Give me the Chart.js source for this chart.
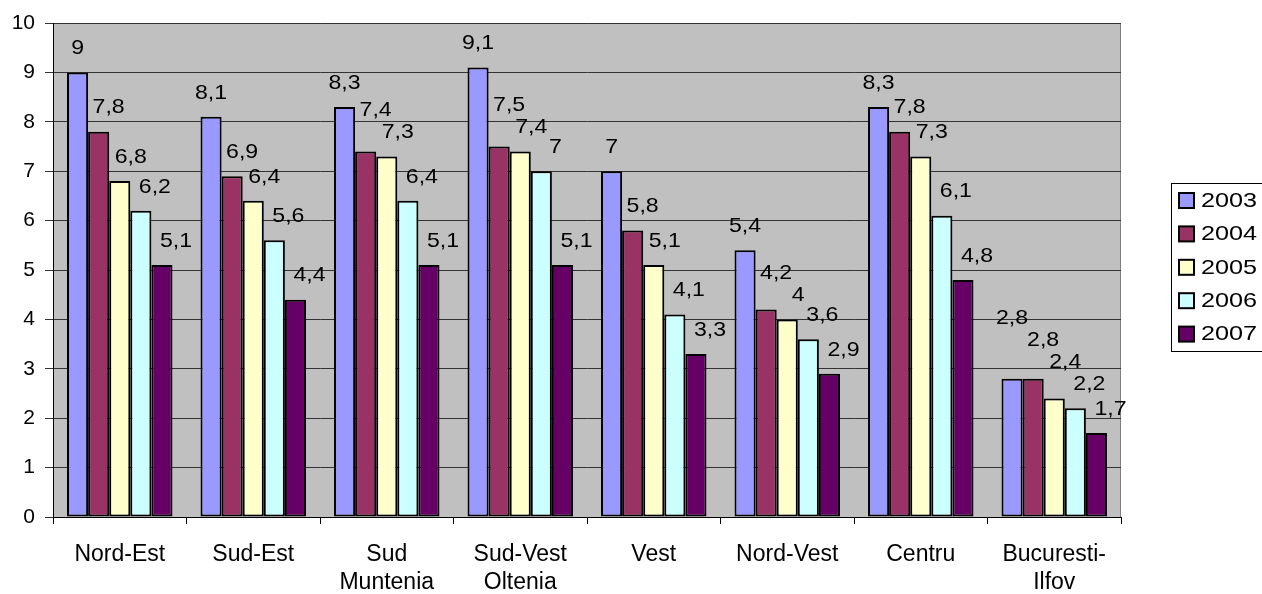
<!DOCTYPE html>
<html lang="en">
<head>
<meta charset="UTF-8" />
<title>Regiuni 2003-2007</title>
<script src="https://cdn.jsdelivr.net/npm/chart.js"></script>
<style>
  * { margin: 0; padding: 0; box-sizing: border-box; }
  body { background: #ffffff; width: 1262px; height: 594px; overflow: hidden; }
  #wrap { position: relative; width: 1262px; height: 594px; }
</style>
</head>
<body>
<div id="wrap"><canvas id="chart" width="1262" height="594"></canvas></div>
<script>
// data
const regions = ['Nord-Est', 'Sud-Est', ['Sud', 'Muntenia'], ['Sud-Vest', 'Oltenia'], 'Vest', 'Nord-Vest', 'Centru', ['Bucuresti-', 'Ilfov']];
const years = ['2003', '2004', '2005', '2006', '2007'];
const v2003 = [9, 8.1, 8.3, 9.1, 7, 5.4, 8.3, 2.8];
const v2004 = [7.8, 6.9, 7.4, 7.5, 5.8, 4.2, 7.8, 2.8];
const v2005 = [6.8, 6.4, 7.3, 7.4, 5.1, 4, 7.3, 2.4];
const v2006 = [6.2, 5.6, 6.4, 7, 4.1, 3.6, 6.1, 2.2];
const v2007 = [5.1, 4.4, 5.1, 5.1, 3.3, 2.9, 4.8, 1.7];
const yTicks = [0, 1, 2, 3, 4, 5, 6, 7, 8, 9, 10];

const colors = ['#9999FF', '#993366', '#FFFFCC', '#CCFFFF', '#660066'];
const series = [v2003, v2004, v2005, v2006, v2007];
const FONT = '"Liberation Sans", Arial, sans-serif';

// gray plot background + frame
const plotBg = {
  id: 'plotBg',
  beforeDraw(chart) {
    const { ctx, chartArea: a } = chart;
    ctx.save();
    ctx.fillStyle = '#C0C0C0';
    ctx.fillRect(a.left, a.top, a.right - a.left, a.bottom - a.top);
    ctx.strokeStyle = '#808080';
    ctx.lineWidth = 1;
    ctx.strokeRect(a.left + 0.5, a.top + 0.5, a.right - a.left - 1, a.bottom - a.top);
    ctx.restore();
  }
};

function wideText(ctx, txt, x, y, sx) {
  ctx.save();
  ctx.translate(x, y);
  ctx.scale(sx, 1);
  ctx.fillText(txt, 0, 0);
  ctx.restore();
}

// value labels, Excel-style: a bit right of the bar, pushed up when they collide
const labelShift = [0, 10, 11, 14, 14];
const valueLabels = {
  id: 'valueLabels',
  afterDatasetsDraw(chart) {
    const ctx = chart.ctx;
    const n = chart.data.datasets.length;
    ctx.save();
    ctx.font = '21px ' + FONT;
    ctx.fillStyle = '#000';
    ctx.textAlign = 'center';
    ctx.textBaseline = 'middle';
    chart.data.labels.forEach((_, j) => {
      const placed = [];
      for (let i = n - 1; i >= 0; i--) {
        const bar = chart.getDatasetMeta(i).data[j];
        const txt = String(chart.data.datasets[i].data[j]).replace('.', ',');
        const w = ctx.measureText(txt).width * 1.1;
        const x = bar.x + labelShift[i];
        let y = bar.y - 24;
        let moved = true;
        while (moved) {
          moved = false;
          for (const p of placed) {
            if (Math.abs(p.x - x) < (p.w + w) / 2 && Math.abs(p.y - y) < 20) {
              y = p.y - 22;
              moved = true;
            }
          }
        }
        placed.push({ x, y, w });
        wideText(ctx, txt, x, y, 1.1);
      }
    });
    ctx.restore();
  }
};

// legend box on the right
const sideLegend = {
  id: 'sideLegend',
  afterDraw(chart) {
    const ctx = chart.ctx;
    ctx.save();
    ctx.strokeStyle = '#000';
    ctx.lineWidth = 1;
    ctx.strokeRect(1171.5, 183.5, 100, 168);
    ctx.font = '21px ' + FONT;
    ctx.textBaseline = 'middle';
    ctx.textAlign = 'left';
    years.forEach((y, i) => {
      const cy = 200 + i * 33.4;
      ctx.fillStyle = colors[i];
      ctx.fillRect(1179, cy - 7, 15, 15);
      ctx.lineWidth = 2;
      ctx.strokeStyle = '#000';
      ctx.strokeRect(1179, cy - 7, 15, 15);
      ctx.fillStyle = '#000';
      wideText(ctx, y, 1201, cy + 1, 1.2);
    });
    ctx.restore();
  }
};

new Chart(document.getElementById('chart'), {
  type: 'bar',
  data: {
    labels: regions,
    datasets: series.map((d, i) => ({
      label: years[i],
      data: d,
      backgroundColor: colors[i],
      borderColor: '#000',
      borderWidth: 2,
      borderSkipped: false,
      categoryPercentage: 0.79,
      barPercentage: 1
    }))
  },
  options: {
    responsive: false,
    animation: false,
    devicePixelRatio: 1,
    layout: { padding: { left: 0, right: 141, top: 23, bottom: 0 } },
    plugins: { legend: { display: false }, tooltip: { enabled: false } },
    scales: {
      x: {
        grid: { drawOnChartArea: false, drawTicks: true, tickLength: 7, color: '#000', offset: true },
        border: { color: '#000', width: 1 },
        ticks: { color: '#000', font: { family: FONT, size: 23, lineHeight: 1.25 }, padding: 16, maxRotation: 0, autoSkip: false },
        afterFit(scale) { scale.height = 77; }
      },
      y: {
        min: 0,
        max: 10,
        afterBuildTicks(scale) { scale.ticks = yTicks.map(v => ({ value: v })); },
        grid: { color: '#333', lineWidth: 1, tickLength: 8, drawTicks: true },
        border: { color: '#000', width: 1 },
        ticks: { color: '#000', font: { family: FONT, size: 21 }, padding: 10 },
        afterFit(scale) { scale.width = 53; }
      }
    }
  },
  plugins: [plotBg, valueLabels, sideLegend]
});
</script>
</body>
</html>
